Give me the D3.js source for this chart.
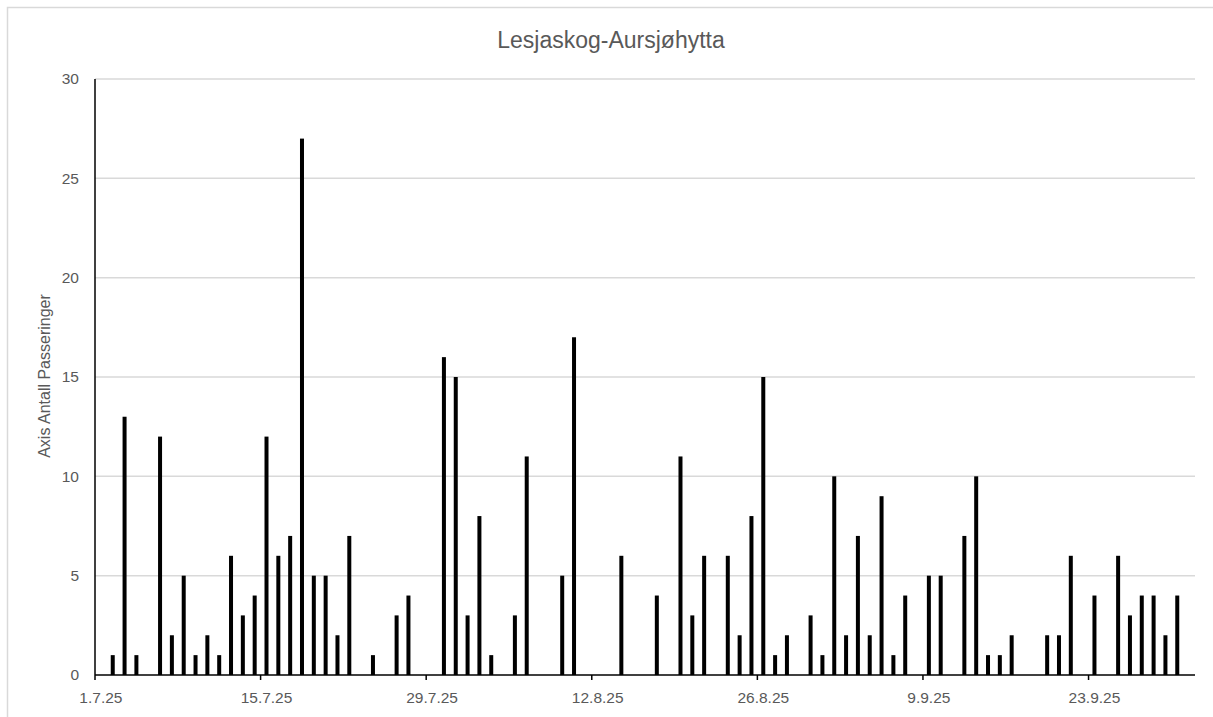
<!DOCTYPE html>
<html>
<head>
<meta charset="utf-8">
<script src="https://cdn.jsdelivr.net/npm/d3@7"></script>
<style>
  html, body { margin: 0; padding: 0; background: #ffffff; }
  svg { display: block; }
  text { font-family: "Liberation Sans", Arial, sans-serif; fill: #595959; }
</style>
</head>
<body>
<div id="chart"></div>
<script>
// ---- Data ----
const title = "Lesjaskog-Aursjøhytta";
const yAxisTitle = "Axis Antall Passeringer";
const dates = [
  "2.7.25","3.7.25","4.7.25","6.7.25","7.7.25","8.7.25","9.7.25","10.7.25","11.7.25","12.7.25",
  "13.7.25","14.7.25","15.7.25","16.7.25","17.7.25","18.7.25","19.7.25","20.7.25","21.7.25","22.7.25",
  "24.7.25","26.7.25","27.7.25","30.7.25","31.7.25","1.8.25","2.8.25","3.8.25","5.8.25","6.8.25",
  "9.8.25","10.8.25","14.8.25","17.8.25","19.8.25","20.8.25","21.8.25","23.8.25","24.8.25","25.8.25",
  "26.8.25","27.8.25","28.8.25","30.8.25","31.8.25","1.9.25","2.9.25","3.9.25","4.9.25","5.9.25",
  "6.9.25","7.9.25","9.9.25","10.9.25","12.9.25","13.9.25","14.9.25","15.9.25","16.9.25","19.9.25",
  "20.9.25","21.9.25","23.9.25","25.9.25","26.9.25","27.9.25","28.9.25","29.9.25","30.9.25"
];
const values = [
  1,13,1,12,2,5,1,2,1,6,
  3,4,12,6,7,27,5,5,2,7,
  1,3,4,16,15,3,8,1,3,11,
  5,17,6,4,11,3,6,6,2,8,
  15,1,2,3,1,10,2,7,2,9,
  1,4,5,5,7,10,1,1,2,2,
  2,6,4,6,3,4,4,2,4
];
const xTickLabels = ["1.7.25","15.7.25","29.7.25","12.8.25","26.8.25","9.9.25","23.9.25"];
const yTicks = [0,5,10,15,20,25,30];
const axisStart = "1.7.25";
const axisEnd = "2.10.25";

// ---- Layout ----
const W = 1213, H = 717;
const plot = { left: 95, right: 1195, top: 79, bottom: 675 };

const parse = d3.timeParse("%d.%m.%y");
const fmt = d3.timeFormat("%-d.%-m.%y");

const svg = d3.select("#chart").append("svg")
  .attr("width", W).attr("height", H);

// chart area border
svg.append("rect")
  .attr("x", 7.5).attr("y", 7.5)
  .attr("width", 1240).attr("height", 740)
  .attr("fill", "#ffffff")
  .attr("stroke", "#d9d9d9").attr("stroke-width", 1.5);

const x = d3.scaleTime()
  .domain([parse(axisStart), parse(axisEnd)])
  .range([plot.left, plot.right]);

const y = d3.scaleLinear()
  .domain([0, 30])
  .range([plot.bottom, plot.top]);

const dayW = x(d3.timeDay.offset(parse(axisStart), 1)) - x(parse(axisStart));
const barW = 4;

// gridlines
svg.append("g")
  .selectAll("line")
  .data(yTicks.filter(v => v > 0))
  .join("line")
  .attr("x1", plot.left).attr("x2", plot.right)
  .attr("y1", d => y(d)).attr("y2", d => y(d))
  .attr("stroke", "#d9d9d9").attr("stroke-width", 1.5);

// y axis labels
svg.append("g")
  .selectAll("text")
  .data(yTicks)
  .join("text")
  .attr("x", 79)
  .attr("y", d => y(d))
  .attr("dy", "0.35em")
  .attr("text-anchor", "end")
  .style("font-size", "15.5px")
  .text(d => d);

// bars
const data = dates.map((d, i) => ({ date: parse(d), value: values[i] }));
svg.append("g")
  .selectAll("rect")
  .data(data)
  .join("rect")
  .attr("x", d => x(d.date) + dayW / 2 - barW / 2)
  .attr("width", barW)
  .attr("y", d => y(d.value))
  .attr("height", d => y(0) - y(d.value))
  .attr("fill", "#000000");

// x axis line
svg.append("line")
  .attr("x1", plot.left).attr("x2", plot.right)
  .attr("y1", plot.bottom).attr("y2", plot.bottom)
  .attr("stroke", "#000").attr("stroke-width", 1.5);

// y axis line
svg.append("line")
  .attr("x1", plot.left).attr("x2", plot.left)
  .attr("y1", plot.top).attr("y2", plot.bottom)
  .attr("stroke", "#000").attr("stroke-width", 1.5);

// x ticks & labels
const tickDates = xTickLabels.map(parse);
svg.append("g")
  .selectAll("line")
  .data(tickDates)
  .join("line")
  .attr("x1", d => x(d)).attr("x2", d => x(d))
  .attr("y1", plot.bottom).attr("y2", plot.bottom + 5)
  .attr("stroke", "#000").attr("stroke-width", 1.5);

svg.append("g")
  .selectAll("text")
  .data(tickDates)
  .join("text")
  .attr("x", d => x(d) + dayW / 2)
  .attr("y", 703)
  .attr("text-anchor", "middle")
  .style("font-size", "15.5px")
  .text(d => fmt(d));

// title
svg.append("text")
  .attr("x", 611).attr("y", 48)
  .attr("text-anchor", "middle")
  .style("font-size", "23px")
  .text(title);

// y axis title
svg.append("text")
  .attr("transform", "translate(50,376) rotate(-90)")
  .attr("text-anchor", "middle")
  .style("font-size", "16px")
  .text(yAxisTitle);
</script>
</body>
</html>
